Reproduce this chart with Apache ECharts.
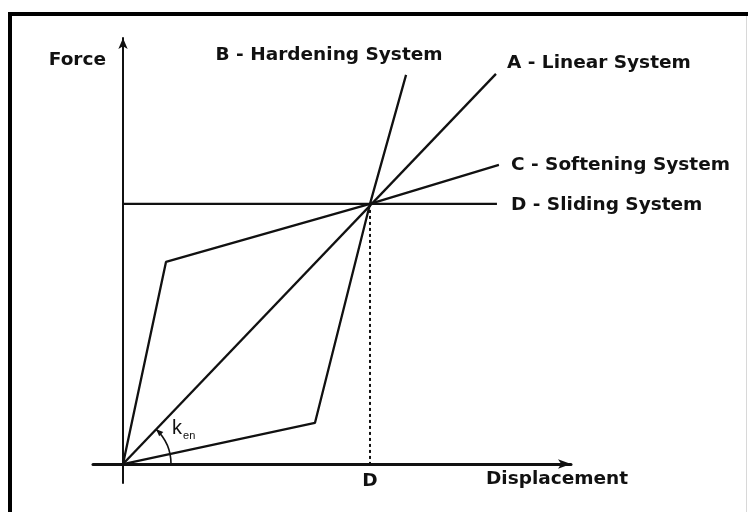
<!DOCTYPE html>
<html>
<head>
<meta charset="utf-8">
<script src="https://cdn.jsdelivr.net/npm/echarts@6/dist/echarts.min.js"></script>
<style>
  html, body { margin: 0; padding: 0; background: #fff; }
  #chart { width: 748px; height: 512px; }
</style>
</head>
<body>
<div id="chart"></div>
<script>
// Force–displacement idealisations of four restoring-force systems.
// Displacement and force are normalised to the common point (D, F) = (1, 1).
const linearSystem    = [[0, 0], [1.51, 1.5]];
const hardeningSystem = [[0, 0], [0.777, 0.158], [1, 1], [1.146, 1.496]];
const softeningSystem = [[0, 0], [0.174, 0.777], [1, 1], [1.522, 1.15]];
const slidingSystem   = [[0, 1], [1.514, 1]];
const designPoint     = [[1, 1], [1, 0]];

const seriesNames = ['A - Linear System', 'B - Hardening System', 'C - Softening System', 'D - Sliding System'];
const xTickLabels = ['D'];
const axisNames   = { x: 'Displacement', y: 'Force' };

const INK = '#111';
const FONT = 'DejaVu Sans';

const chart = echarts.init(document.getElementById('chart'), null, { renderer: 'canvas' });

const labelBase = { show: true, color: INK, opacity: 1, fontFamily: FONT, fontWeight: 'bold', fontSize: 18.5 };

function lineSeries(name, data, lineStyle) {
  return {
    name, type: 'line', data,
    symbol: 'none',
    lineStyle: Object.assign({ color: INK, width: 2.3 }, lineStyle || {}),
    silent: true, z: 3
  };
}

// one annotation per polyline, anchored at the polyline's last vertex
function endAnnotation(points, text, labelOpts) {
  return {
    value: points[points.length - 1],
    label: Object.assign({}, labelBase, { formatter: text }, labelOpts)
  };
}

const annotations = [
  endAnnotation(linearSystem, seriesNames[0], { position: 'right', distance: 10, offset: [0, -11] }),
  endAnnotation(hardeningSystem, seriesNames[1], { position: 'top', distance: 5, offset: [-77, -4] }),
  endAnnotation(softeningSystem, seriesNames[2], { position: 'right', distance: 11 }),
  endAnnotation(slidingSystem, seriesNames[3], { position: 'right', distance: 13, offset: [0, 1] }),
  endAnnotation(designPoint, xTickLabels[0], { position: 'bottom', distance: 7 })
];

const option = {
  animation: false,
  backgroundColor: '#fff',
  grid: { left: 93, right: 177, top: 38, bottom: 29, containLabel: false },
  xAxis: {
    type: 'value', min: -0.1215, max: 1.8138,
    name: axisNames.x, nameLocation: 'end', nameGap: -14,
    nameTextStyle: { color: INK, fontFamily: FONT, fontWeight: 'bold', fontSize: 18.5,
                     align: 'center', verticalAlign: 'top', lineHeight: 30 },
    axisLine: { onZero: true, symbol: ['none', 'arrow'], symbolSize: [7, 13],
                lineStyle: { color: INK, width: 3 } },
    axisTick: { show: false },
    splitLine: { show: false },
    axisLabel: { show: false }
  },
  yAxis: {
    type: 'value', min: -0.073, max: 1.638,
    name: axisNames.y, nameLocation: 'end', nameGap: -22,
    nameTextStyle: { color: INK, fontFamily: FONT, fontWeight: 'bold', fontSize: 18.5,
                     align: 'right', verticalAlign: 'middle', padding: [0, 17, 0, 0] },
    axisLine: { onZero: true, symbol: ['none', 'arrow'], symbolSize: [7, 11],
                lineStyle: { color: INK, width: 2 } },
    axisTick: { show: false },
    splitLine: { show: false },
    axisLabel: { show: false }
  },
  series: [
    lineSeries(seriesNames[0], linearSystem),
    lineSeries(seriesNames[1], hardeningSystem),
    lineSeries(seriesNames[2], softeningSystem),
    lineSeries(seriesNames[3], slidingSystem),
    Object.assign(lineSeries('design displacement', designPoint, { width: 2, type: [3, 3] }), { z: 2 }),
    {
      name: 'annotations', type: 'scatter', data: annotations,
      symbol: 'circle', symbolSize: 2,
      itemStyle: { color: 'rgba(0,0,0,0)', opacity: 1 },
      silent: true, z: 5
    },
    {
      // stiffness angle k_en between the secant line and the displacement axis
      name: 'k_en', type: 'custom', data: [[0, 0]], silent: true, z: 4,
      renderItem(params, api) {
        const o = api.coord([0, 0]);
        const a = api.coord(linearSystem[1]);
        const ang = Math.atan2(a[1] - o[1], a[0] - o[0]);
        const r = 48;
        const tip = [o[0] + r * Math.cos(ang), o[1] + r * Math.sin(ang)];
        const d = [Math.sin(ang), -Math.cos(ang)];
        const n = [Math.cos(ang), Math.sin(ang)];
        const L = 7, W = 3;
        const base = [tip[0] - L * d[0], tip[1] - L * d[1]];
        return {
          type: 'group',
          children: [
            { type: 'arc',
              shape: { cx: o[0], cy: o[1], r, startAngle: ang, endAngle: 0, clockwise: true },
              style: { stroke: INK, lineWidth: 1.6, fill: null } },
            { type: 'polygon',
              shape: { points: [tip,
                [base[0] + W * n[0], base[1] + W * n[1]],
                [base[0] - W * n[0], base[1] - W * n[1]]] },
              style: { fill: INK } },
            { type: 'text',
              style: {
                x: o[0] + 49, y: o[1] - 26,
                text: '{k|k}{s|en}',
                verticalAlign: 'bottom',
                rich: {
                  k: { fontFamily: 'Liberation Sans', fontSize: 20, fill: INK, verticalAlign: 'bottom' },
                  s: { fontFamily: 'Liberation Sans', fontSize: 11, fill: INK, verticalAlign: 'bottom', padding: [0, 0, -3, 1] }
                }
              } }
          ]
        };
      }
    }
  ],
  graphic: [
    { type: 'line', shape: { x1: 8, y1: 14, x2: 748, y2: 14 }, style: { stroke: '#000', lineWidth: 4 }, silent: true },
    { type: 'line', shape: { x1: 10, y1: 12, x2: 10, y2: 512 }, style: { stroke: '#000', lineWidth: 4 }, silent: true },
    { type: 'line', shape: { x1: 746.5, y1: 16, x2: 746.5, y2: 512 }, style: { stroke: '#d8d8d8', lineWidth: 1 }, silent: true }
  ]
};

chart.setOption(option);
</script>
</body>
</html>
